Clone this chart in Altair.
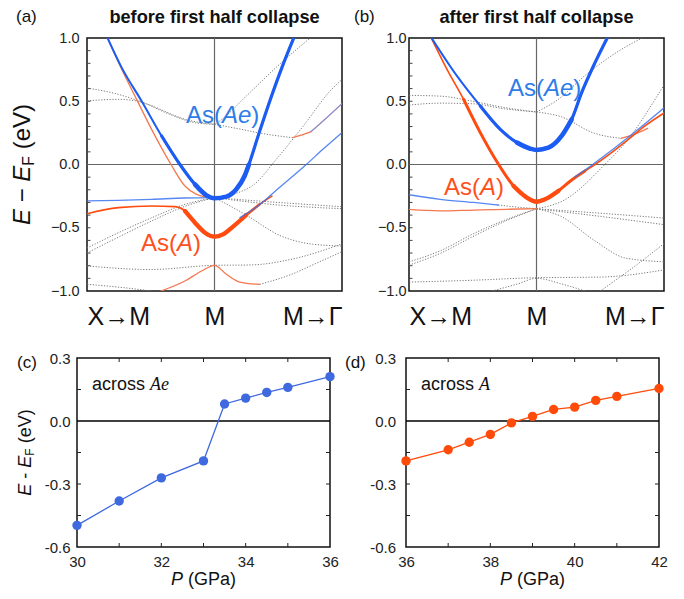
import altair as alt
import pandas as pd

FONT = "Liberation Sans"
SERIF = "Liberation Serif"
BLUE = "#1c5cf2"
BLUE_THIN = "#3a72ee"
ORANGE = "#ff4b0f"
ORANGE_THIN = "#f5774d"
PURPLE = "#8e86c9"
GRAY = "#7a7a7a"
LABEL_BLUE = "#2d7de8"
LABEL_ORANGE = "#ff4f1c"
C_BLUE = "#3f69df"
D_ORANGE = "#ff4b0a"

# ---------------- panel (a) : before first half collapse ----------------
# k: X->M side = -1, M = 0, M->Gamma side = +1 ; E - E_F in eV
A_AE_K = [-0.846, -0.728, -0.572, -0.415, -0.271, -0.153, -0.062, 0.0, 0.093, 0.171, 0.236, 0.270, 0.35, 0.44, 0.53, 0.628]
A_AE_E = [1.016, 0.766, 0.502, 0.226, 0.0, -0.157, -0.244, -0.267, -0.254, -0.196, -0.091, 0.0, 0.25, 0.52, 0.77, 1.016]
A_A_K = [-1.02, -0.755, -0.493, -0.31, -0.232, -0.153, -0.075, 0.0, 0.066, 0.145, 0.249, 0.354, 0.45]
A_A_E = [-0.394, -0.341, -0.328, -0.333, -0.367, -0.46, -0.539, -0.570, -0.552, -0.491, -0.399, -0.315, -0.25]
A_OU_K = [-0.846, -0.728, -0.611, -0.48, -0.341, -0.232, -0.14, 0.0]
A_OU_E = [1.016, 0.753, 0.515, 0.252, 0.0, -0.17, -0.236, -0.267]
A_OL_K = [-0.42, -0.232, -0.101, 0.0, 0.093, 0.197, 0.354]
A_OL_E = [-1.0, -0.921, -0.842, -0.797, -0.868, -0.929, -0.947]
A_OS_K = [0.615, 0.68, 0.757]
A_OS_E = [0.212, 0.232, 0.26]
A_PS_K = [0.757, 0.88, 1.02]
A_PS_E = [0.26, 0.37, 0.50]
A_BL_K = [-1.02, -0.755, -0.493, -0.232, 0.0]
A_BL_E = [-0.288, -0.283, -0.275, -0.265, -0.262]
A_BR_K = [0.2, 0.35, 0.5, 0.72, 0.85, 1.02]
A_BR_E = [-0.42, -0.32, -0.19, 0.0, 0.12, 0.27]
A_DOTTED = [
    ([-1.02, -0.755, -0.49, -0.23, 0.0], [0.608, 0.555, 0.463, 0.357, 0.318]),
    ([-1.02, -0.755, -0.6, -0.36, -0.15, 0.0], [0.502, 0.515, 0.50, 0.40, 0.33, 0.318]),
    ([0.0, 0.04, 0.25, 0.51, 0.77], [0.318, 0.344, 0.542, 0.792, 1.016]),
    ([0.0, 0.2, 0.38, 0.615], [0.318, 0.28, 0.244, 0.212]),
    ([0.0, 0.286, 0.5, 0.7, 0.914, 1.02], [-0.262, -0.175, 0.06, 0.31, 0.589, 0.69]),
    ([-1.02, -0.755, -0.49, -0.23, 0.0], [-0.67, -0.54, -0.42, -0.315, -0.262]),
    ([-1.02, -0.755, -0.49, -0.23, 0.0], [-0.71, -0.575, -0.445, -0.33, -0.262]),
    ([0.0, 0.5, 1.02], [-0.262, -0.30, -0.335]),
    ([0.0, 0.5, 1.02], [-0.262, -0.32, -0.35]),
    ([0.0, 0.25, 0.51, 0.77, 1.02], [-0.262, -0.40, -0.56, -0.63, -0.645]),
    ([-1.02, -0.5, 0.0, 0.286, 0.6, 1.02], [-0.80, -0.83, -0.797, -0.794, -0.75, -0.62]),
    ([0.354, 0.6, 0.8, 1.02], [-0.947, -0.87, -0.78, -0.68]),
    ([-1.02, -0.7, -0.42], [-0.945, -0.975, -1.01]),
]

# ---------------- panel (b) : after first half collapse ----------------
B_AE_K = [-0.833, -0.624, -0.441, -0.284, -0.153, -0.049, 0.0, 0.093, 0.197, 0.276, 0.354, 0.459, 0.563]
B_AE_E = [1.016, 0.70, 0.463, 0.278, 0.173, 0.125, 0.115, 0.133, 0.226, 0.357, 0.568, 0.805, 1.016]
B_A_K = [-0.833, -0.702, -0.572, -0.441, -0.297, -0.18, -0.075, 0.0, 0.066, 0.171, 0.276, 0.38, 0.459, 0.589, 0.72, 0.851, 1.02]
B_A_E = [1.016, 0.752, 0.515, 0.252, 0.0, -0.17, -0.262, -0.294, -0.275, -0.209, -0.122, -0.051, 0.0, 0.094, 0.199, 0.305, 0.42]
B_BR_K = [0.3, 0.427, 0.6, 0.8, 1.02]
B_BR_E = [-0.10, -0.01, 0.12, 0.28, 0.465]
B_BL_K = [-1.02, -0.755, -0.493, -0.3]
B_BL_E = [-0.236, -0.275, -0.30, -0.32]
B_OF_K = [-1.02, -0.755, -0.493, -0.232, 0.0]
B_OF_E = [-0.354, -0.367, -0.36, -0.354, -0.349]
B_OS_K = [0.663, 0.77, 0.872]
B_OS_E = [0.207, 0.24, 0.286]
B_DOTTED = [
    ([-1.02, -0.75, -0.5, -0.25, 0.0], [0.547, 0.54, 0.50, 0.45, 0.415]),
    ([-1.02, -0.75, -0.5, -0.25, 0.0], [0.468, 0.485, 0.48, 0.44, 0.415]),
    ([0.0, 0.15, 0.4, 0.65, 0.86], [0.415, 0.50, 0.72, 0.90, 1.016]),
    ([0.0, 0.192, 0.453, 0.663], [0.415, 0.378, 0.247, 0.207]),
    ([0.0, 0.218, 0.532, 0.715, 0.976, 1.02], [-0.35, -0.281, -0.004, 0.194, 0.589, 0.66]),
    ([-0.3, -0.15, 0.0], [-0.32, -0.337, -0.349]),
    ([-1.02, -0.75, -0.5, -0.25, 0.0], [-0.776, -0.68, -0.55, -0.44, -0.35]),
    ([-1.02, -0.75, -0.5, -0.25, 0.0], [-0.802, -0.70, -0.57, -0.45, -0.35]),
    ([0.0, 0.5, 1.02], [-0.35, -0.385, -0.425]),
    ([0.0, 0.5, 1.02], [-0.35, -0.41, -0.478]),
    ([0.0, 0.192, 0.453, 0.7, 1.02], [-0.35, -0.41, -0.60, -0.74, -0.77]),
    ([-1.02, -0.5, 0.0, 0.5, 1.02], [-0.93, -0.915, -0.895, -0.89, -0.83]),
    ([-0.35, -0.15, 0.0, 0.2, 0.38], [-1.0, -0.945, -0.90, -0.945, -1.0]),
    ([0.5, 0.75, 1.02], [-1.0, -0.82, -0.61]),
]

BAND_MINOR = [-0.9, -0.8, -0.7, -0.6, -0.5, -0.4, -0.3, -0.2, -0.1, 0.1, 0.2, 0.3, 0.4, 0.5, 0.6, 0.7, 0.8, 0.9]

# ---------------- panels (c), (d) ----------------
C_P = [30, 31, 32, 33, 33.5, 34, 34.5, 35, 36]
C_E = [-0.497, -0.381, -0.271, -0.19, 0.081, 0.109, 0.136, 0.16, 0.211]
D_P = [36, 37, 37.5, 38, 38.5, 39, 39.5, 40, 40.5, 41, 42]
D_E = [-0.19, -0.137, -0.101, -0.064, -0.009, 0.022, 0.055, 0.066, 0.098, 0.117, 0.155]
P_MINOR = [-0.45, -0.3, -0.15, 0.15]
C_XTICKS = [31, 32, 33, 34, 35]
D_XTICKS = [37, 38, 39, 40, 41]

BW, BH = 255, 253
PW, PH = 253, 189


def bands_df(items):
    rows = []
    for name, ks, es in items:
        for i, (k, e) in enumerate(zip(ks, es)):
            rows.append({"band": name, "k": k, "E": e, "i": i})
    return pd.DataFrame(rows)


def part(name, ks, es, k0, k1):
    sel = [(k, e) for k, e in zip(ks, es) if k0 <= k <= k1]
    return (name, [s[0] for s in sel], [s[1] for s in sel])


def line_layer(items, X, Y, color, width, dash=None, opacity=1.0):
    props = dict(color=color, strokeWidth=width, interpolate="monotone", clip=True, opacity=opacity)
    if dash is not None:
        props["strokeDash"] = dash
    else:
        props["strokeCap"] = "round"
    return alt.Chart(bands_df(items)).mark_line(**props).encode(
        x=X, y=Y, detail="band:N", order="i:Q")


def ptxt(s, x, y, size, color="#111", style="normal", weight="normal", font=FONT, align="left", angle=0):
    return alt.Chart(pd.DataFrame({"t": [s]})).mark_text(
        text=s, fontSize=size, font=font, fontStyle=style, fontWeight=weight, color=color,
        align=align, baseline="alphabetic", angle=angle
    ).encode(x=alt.value(x), y=alt.value(y))


def anchor(x, y):
    # tiny white rule used only to fix the layout bounds of a panel
    return alt.Chart(pd.DataFrame({"v": [0]})).mark_rule(color="white", strokeWidth=1).encode(
        x=alt.value(x), x2=alt.value(x + 1), y=alt.value(y), y2=alt.value(y + 1))


def dtxt(s, k, e, size, color, X, Y, dx=0, style="normal"):
    return alt.Chart(pd.DataFrame({"k": [k], "E": [e]})).mark_text(
        text=s, fontSize=size, font=FONT, fontStyle=style, color=color,
        align="left", baseline="alphabetic", dx=dx
    ).encode(x=X, y=Y)


def ytitle(xb, center, size, dash_w):
    sub = size * 0.66
    wE, wsp, wF = 0.667 * size, 0.278 * size, 0.611 * sub
    total = 2 * wE + 3 * wsp + dash_w * size + wF + (0.333 + 0.556 + 0.667 + 0.333) * size
    y0 = center + total / 2
    dash = "\u2212" if dash_w > 0.5 else "-"
    y1 = y0 - wE - wsp
    y2 = y1 - dash_w * size - wsp
    y3 = y2 - wE
    y4 = y3 - wF - wsp
    return [
        ptxt("E", xb, y0, size, style="italic", angle=270),
        ptxt(dash, xb, y1, size, angle=270),
        ptxt("E", xb, y2, size, style="italic", angle=270),
        ptxt("F", xb + size * 0.17, y3, sub, angle=270),
        ptxt("(eV)", xb, y4, size, angle=270),
    ]


def band_panel(tag, tag_x, title, ypad, ae, a_thick, thin_orange, purple, blue_thin, dotted,
               lab_ae, lab_a, with_ytitle):
    xs = alt.Scale(domain=[-1, 1], nice=False, zero=False)
    ys = alt.Scale(domain=[-1, 1], nice=False, zero=False)
    X = alt.X("k:Q", scale=xs, axis=alt.Axis(
        values=[-1, 0, 1],
        labelExpr="datum.value == 0 ? 'M' : (datum.value < 0 ? 'X\u2192M' : 'M\u2192\u0393')",
        labelFlush=True, labelFontSize=25, labelFont=FONT, labelColor="#111", labelPadding=13,
        ticks=False, domain=False, grid=False, title=None))
    Y = alt.Y("E:Q", scale=ys, axis=alt.Axis(
        values=[-1, -0.5, 0, 0.5, 1], format=".1f", labelFontSize=14.5, labelFont=FONT,
        labelColor="#222", labelPadding=ypad, ticks=False, domain=False, grid=False, title=None))

    layers = [
        alt.Chart(pd.DataFrame({"E": [0.0]})).mark_rule(color="#666", strokeWidth=1.2).encode(y=Y),
        alt.Chart(pd.DataFrame({"k": [0.0]})).mark_rule(color="#666", strokeWidth=1.2).encode(x=X),
        alt.Chart(pd.DataFrame({"E": BAND_MINOR})).mark_rule(color="#444", strokeWidth=1).encode(
            y=Y, x=alt.value(0), x2=alt.value(3.5)),
        line_layer([("d%d" % i, k, e) for i, (k, e) in enumerate(dotted)], X, Y, GRAY, 1.0, dash=[1.2, 1.6]),
        line_layer(thin_orange, X, Y, ORANGE_THIN, 1.3),
    ]
    if purple:
        layers.append(line_layer(purple, X, Y, PURPLE, 1.3))
    name, ks, es, parts_a = a_thick
    layers.append(line_layer([(name, ks, es)], X, Y, ORANGE, 1.6))
    for k0, k1, w in parts_a:
        layers.append(line_layer([part(name, ks, es, k0, k1)], X, Y, ORANGE, w))
    layers.append(line_layer(blue_thin, X, Y, BLUE_THIN, 1.3, opacity=0.85))
    name, ks, es, parts_b = ae
    layers.append(line_layer([(name, ks, es)], X, Y, BLUE, 2.0))
    for k0, k1, w in parts_b:
        layers.append(line_layer([part(name, ks, es, k0, k1)], X, Y, BLUE, w))

    k, e = lab_ae
    layers += [dtxt("As(", k, e, 24, LABEL_BLUE, X, Y),
               dtxt("Ae", k, e, 24, LABEL_BLUE, X, Y, dx=36.0, style="italic"),
               dtxt(")", k, e, 24, LABEL_BLUE, X, Y, dx=65.4)]
    k, e = lab_a
    layers += [dtxt("As(", k, e, 24, LABEL_ORANGE, X, Y),
               dtxt("A", k, e, 24, LABEL_ORANGE, X, Y, dx=36.0, style="italic"),
               dtxt(")", k, e, 24, LABEL_ORANGE, X, Y, dx=52.0)]
    layers.append(ptxt(tag, tag_x, -16, 17))
    layers.append(ptxt(title, BW / 2, -15, 18.2, weight="bold", align="center"))
    if with_ytitle:
        layers += ytitle(-57, BH / 2, 24, 0.584)
        layers += [anchor(-78, 0), anchor(0, BH + 42), anchor(20, -36)]
    return alt.layer(*layers).properties(width=BW, height=BH)


def pressure_panel(P, E, color, xdom, xvals, xticks, tag, tag_x, ypad, word, with_ytitle):
    xs = alt.Scale(domain=xdom, nice=False, zero=False)
    ys = alt.Scale(domain=[-0.6, 0.3], nice=False, zero=False)
    X = alt.X("P:Q", scale=xs, axis=alt.Axis(
        values=xvals, format="d", labelFontSize=15, labelFont=FONT, labelColor="#222",
        labelPadding=7, labelFlush=False, ticks=False, domain=False, grid=False, title=None))
    Y = alt.Y("E:Q", scale=ys, axis=alt.Axis(
        values=[-0.6, -0.3, 0, 0.3],
        labelExpr="replace(format(datum.value, '.1f'), '\u2212', '-')",
        labelFontSize=15, labelFont=FONT, labelColor="#222", labelPadding=ypad,
        ticks=False, domain=False, grid=False, title=None))
    df = pd.DataFrame({"P": P, "E": E})
    xt = pd.DataFrame({"P": xticks})
    layers = [
        alt.Chart(pd.DataFrame({"E": [0.0]})).mark_rule(color="#000", strokeWidth=1.5).encode(y=Y),
        alt.Chart(pd.DataFrame({"E": P_MINOR})).mark_rule(color="#222", strokeWidth=1).encode(
            y=Y, x=alt.value(0), x2=alt.value(4)),
        alt.Chart(pd.DataFrame({"E": P_MINOR})).mark_rule(color="#222", strokeWidth=1).encode(
            y=Y, x=alt.value(PW - 4), x2=alt.value(PW)),
        alt.Chart(xt).mark_rule(color="#222", strokeWidth=1).encode(
            x=X, y=alt.value(PH - 4), y2=alt.value(PH)),
        alt.Chart(xt).mark_rule(color="#222", strokeWidth=1).encode(
            x=X, y=alt.value(0), y2=alt.value(4)),
        alt.Chart(df).mark_line(color=color, strokeWidth=1.3).encode(x=X, y=Y),
        alt.Chart(df).mark_circle(color=color, size=88, opacity=1).encode(x=X, y=Y),
        ptxt("across", 15, 32, 18),
        ptxt(word, 15 + 2.945 * 18 + 0.278 * 18, 32, 18, style="italic", font=SERIF),
        ptxt(tag, tag_x, 9.5, 17),
        ptxt("P", 94, 227, 18, style="italic"),
        ptxt("(GPa)", 94 + 0.667 * 18 + 0.278 * 18, 227, 18),
    ]
    if with_ytitle:
        layers += ytitle(-46, PH / 2, 18, 0.333)
        layers += [anchor(-67, 0), anchor(0, -12)]
    return alt.layer(*layers).properties(width=PW, height=PH)


panel_a = band_panel(
    "(a)", -71, "before first half collapse", 8,
    ("aAe", A_AE_K, A_AE_E, [(-0.5, 0.7, 3.2), (-0.2, 0.3, 4.6)]),
    ("aA", A_A_K, A_A_E, [(-0.26, 0.26, 4.3), (0.24, 0.36, 2.6)]),
    [("aou", A_OU_K, A_OU_E), ("aol", A_OL_K, A_OL_E), ("aos", A_OS_K, A_OS_E)],
    [("aps", A_PS_K, A_PS_E)],
    [("abl", A_BL_K, A_BL_E), ("abr", A_BR_K, A_BR_E)],
    A_DOTTED, (-0.224, 0.332), (-0.576, -0.684), True)

panel_b = band_panel(
    "(b)", -55, "after first half collapse", 3,
    ("bAe", B_AE_K, B_AE_E, [(-0.5, 0.6, 3.2), (-0.25, 0.3, 4.6)]),
    ("bA", B_A_K, B_A_E, [(-0.6, 0.39, 3.0), (-0.2, 0.2, 4.4)]),
    [("bof", B_OF_K, B_OF_E), ("bos", B_OS_K, B_OS_E)],
    [],
    [("bbl", B_BL_K, B_BL_E), ("bbr", B_BR_K, B_BR_E)],
    B_DOTTED, (-0.224, 0.541), (-0.725, -0.241), False)

panel_c = pressure_panel(C_P, C_E, C_BLUE, [30, 36], [30, 32, 34, 36], C_XTICKS, "(c)", -60, 7, "Ae", True)
panel_d = pressure_panel(D_P, D_E, D_ORANGE, [36, 42], [36, 38, 40, 42], D_XTICKS, "(d)", -61, 10.5, "A", False)

spacer = alt.Chart(pd.DataFrame({"v": [0]})).mark_point(opacity=0).encode(
    x=alt.value(0), y=alt.value(0)).properties(width=10, height=BH, view=alt.ViewBackground(strokeOpacity=0))

top = alt.hconcat(spacer, alt.hconcat(panel_a, panel_b, spacing=67, bounds="flush"), spacing=0, bounds="flush")
bottom = alt.hconcat(panel_c, panel_d, spacing=76, bounds="flush")

chart = alt.vconcat(top, bottom, spacing=8).configure_view(
    stroke="#111", strokeWidth=1.5
).properties(padding={"left": -1, "top": -8, "right": 5, "bottom": 5}, background="white")

chart.save("out.html", embed_options={"renderer": "svg", "actions": False})
